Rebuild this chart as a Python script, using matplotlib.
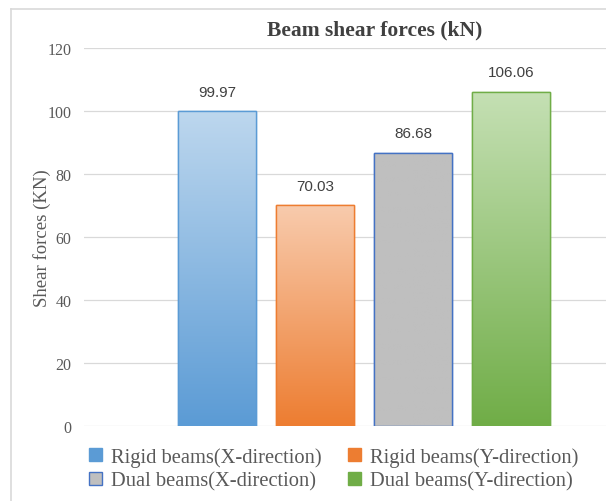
import numpy as np
import matplotlib
matplotlib.use('Agg')
import matplotlib.pyplot as plt
from matplotlib.lines import Line2D
from matplotlib.colors import LinearSegmentedColormap

# data
series = ['Rigid beams(X-direction)', 'Rigid beams(Y-direction)',
          'Dual beams(X-direction)', 'Dual beams(Y-direction)']
values = [99.97, 70.03, 86.68, 106.06]
yticks = [0, 20, 40, 60, 80, 100, 120]

# colours: (top, bottom, edge)
tops = ['#bdd7ee', '#f8cbad', '#bfbfbf', '#c5e0b4']
bottoms = ['#5b9bd5', '#ed7d31', '#bfbfbf', '#70ad47']
edges = ['#5b9bd5', '#ed7d31', '#4472c4', '#70ad47']

serif = 'Liberation Serif'

fig = plt.figure(figsize=(6.06, 5.02), dpi=100)
ax = fig.add_axes([84/606, 1-427/502, 1-84/606, 378/502])

x = np.arange(len(values))
width = 0.79
bars = ax.bar(x, values, width=width, color=bottoms, edgecolor=edges,
              linewidth=1.0, zorder=3)

# gradient fill inside each bar
grad = np.linspace(1, 0, 256).reshape(-1, 1)
for b, top, bot in zip(bars, tops, bottoms):
    cmap = LinearSegmentedColormap.from_list('g', [bot, top])
    bx, by = b.get_x(), b.get_y()
    im = ax.imshow(grad, cmap=cmap, aspect='auto', zorder=3.5,
                   extent=[bx, bx + b.get_width(), by, by + b.get_height()],
                   vmin=0, vmax=1)
    im.set_clip_path(b)
    # outline on top
    ax.bar(b.get_x() + b.get_width()/2, b.get_height(), width=b.get_width(),
           fill=False, edgecolor=b.get_edgecolor(), linewidth=1.0, zorder=4)

ax.set_xlim(-1.357, -1.357 + 522/98)
ax.set_ylim(0, 120)
ax.set_yticks(yticks)
ax.set_xticks([])
ax.tick_params(axis='y', length=0, pad=9, labelsize=11.5, labelcolor='#595959')
for lab in ax.get_yticklabels():
    lab.set_fontfamily(serif)
ax.grid(axis='y', color='#d9d9d9', linewidth=0.9, zorder=0)
for s in ax.spines.values():
    s.set_visible(False)

ax.set_ylabel('Shear forces (KN)', fontsize=13.5, family=serif, color='#595959')
ax.yaxis.set_label_coords(-0.064, 0.5)

for b, v in zip(bars, values):
    ax.annotate(f'{v:.2f}', (b.get_x() + b.get_width()/2, v),
                xytext=(0, 9), textcoords='offset points', ha='center',
                va='bottom', fontsize=11, color='#404040',
                family='Liberation Sans')

fig.text(375/606, 1-30/502, 'Beam shear forces (kN)', ha='center', va='center',
         fontsize=15.5, fontweight='bold', family=serif, color='#404040')

# legend
handles = [plt.Rectangle((0, 0), 1, 1, facecolor=c, edgecolor=e, linewidth=1.0)
           for c, e in zip(bottoms, edges)]
order = [0, 2, 1, 3]
leg = fig.legend([handles[i] for i in order], [series[i] for i in order],
                 ncol=2, loc='upper left', bbox_to_anchor=(79/606, 1-438/502),
                 frameon=False, handlelength=0.62, handleheight=0.62,
                 handletextpad=0.45, columnspacing=1.28, labelspacing=0.22,
                 borderpad=0, prop={'family': serif, 'size': 14.8})
for t in leg.get_texts():
    t.set_color('#595959')

# outer frame of the chart area (cropped on right and bottom)
fig.add_artist(Line2D([11/606, 11/606], [0, 1-10/502], color='#d9d9d9',
                      linewidth=1.2, transform=fig.transFigure))
fig.add_artist(Line2D([11/606, 1], [1-10/502, 1-10/502], color='#d9d9d9',
                      linewidth=1.2, transform=fig.transFigure))

fig.savefig('out.png', dpi=100)
